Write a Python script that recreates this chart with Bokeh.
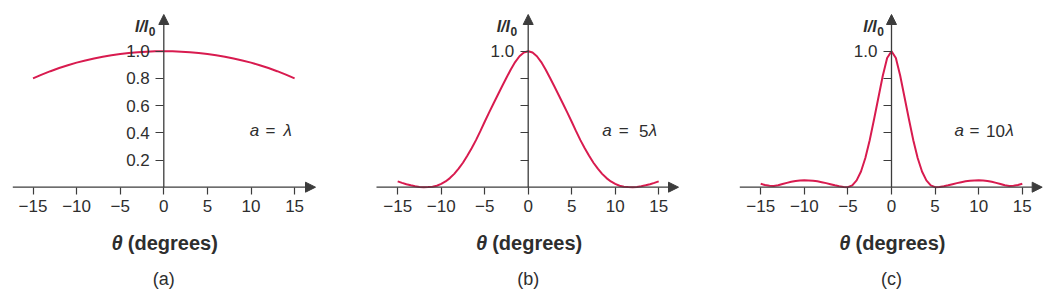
from bokeh.plotting import figure
from bokeh.models import Range1d, FixedTicker, Arrow, NormalHead, Label
from bokeh.layouts import row
from bokeh.embed import file_html
from bokeh.resources import INLINE

# ---------------- data ----------------
theta_a = [-15, -14, -13, -12, -11, -10, -9, -8, -7, -6, -5, -4, -3, -2, -1, 0,
           1, 2, 3, 4, 5, 6, 7, 8, 9, 10, 11, 12, 13, 14, 15]
intensity_a = [0.800, 0.828, 0.853, 0.876, 0.897, 0.916, 0.932, 0.946, 0.959, 0.970,
               0.979, 0.986, 0.992, 0.996, 0.999, 1.000, 0.999, 0.996, 0.992, 0.986,
               0.979, 0.970, 0.959, 0.946, 0.932, 0.916, 0.897, 0.876, 0.853, 0.828, 0.800]

theta_bc = [-15.0, -14.5, -14.0, -13.5, -13.0, -12.5, -12.0, -11.5, -11.0, -10.5,
            -10.0, -9.5, -9.0, -8.5, -8.0, -7.5, -7.0, -6.5, -6.0, -5.5,
            -5.0, -4.5, -4.0, -3.5, -3.0, -2.5, -2.0, -1.5, -1.0, -0.5,
            0.0, 0.5, 1.0, 1.5, 2.0, 2.5, 3.0, 3.5, 4.0, 4.5,
            5.0, 5.5, 6.0, 6.5, 7.0, 7.5, 8.0, 8.5, 9.0, 9.5,
            10.0, 10.5, 11.0, 11.5, 12.0, 12.5, 13.0, 13.5, 14.0, 14.5, 15.0]
intensity_b = [0.043, 0.032, 0.022, 0.014, 0.007, 0.002, 0.000, 0.001, 0.004, 0.011,
               0.024, 0.042, 0.067, 0.098, 0.136, 0.180, 0.231, 0.287, 0.346, 0.412,
               0.481, 0.548, 0.614, 0.678, 0.742, 0.805, 0.866, 0.920, 0.963, 0.990,
               1.000, 0.990, 0.963, 0.920, 0.866, 0.805, 0.742, 0.678, 0.614, 0.548,
               0.481, 0.412, 0.346, 0.287, 0.231, 0.180, 0.136, 0.098, 0.067, 0.042,
               0.024, 0.011, 0.004, 0.001, 0.000, 0.002, 0.007, 0.014, 0.022, 0.032, 0.043]
intensity_c = [0.025, 0.016, 0.010, 0.009, 0.014, 0.023, 0.032, 0.040, 0.046, 0.050,
               0.051, 0.050, 0.047, 0.043, 0.037, 0.030, 0.022, 0.014, 0.007, 0.002,
               0.000, 0.014, 0.050, 0.115, 0.215, 0.345, 0.500, 0.660, 0.820, 0.950,
               1.000, 0.950, 0.820, 0.660, 0.500, 0.345, 0.215, 0.115, 0.050, 0.014,
               0.000, 0.002, 0.007, 0.014, 0.022, 0.030, 0.037, 0.043, 0.047, 0.050,
               0.051, 0.050, 0.046, 0.040, 0.032, 0.023, 0.014, 0.009, 0.010, 0.016, 0.025]

x_ticks = [-15, -10, -5, 0, 5, 10, 15]
x_tick_labels = ["\u221215", "\u221210", "\u22125", "0", "5", "10", "15"]
y_ticks = [0.2, 0.4, 0.6, 0.8, 1.0]
y_tick_labels_full = ["0.2", "0.4", "0.6", "0.8", "1.0"]
y_tick_labels_top = ["", "", "", "", "1.0"]

panel_tags = ["(a)", "(b)", "(c)"]
slit_numbers = ["", "5", "10"]

# ---------------- style ----------------
CURVE = "#d81b4f"
AXIS = "#3c3c3c"
TEXT = "#2e2e2e"
FONT = "Liberation Sans"
H = 306
Y0 = 186.7   # pixel row of intensity 0
YS = 136.0   # pixels per unit intensity


def make_panel(width, axis_px, scale, xline, xs, ys, ylabels, tag, num,
               sub_off, eq_pos):
    x0 = -axis_px / scale
    x1 = (width - axis_px) / scale
    p = figure(width=width, height=H, x_range=Range1d(x0, x1),
               y_range=Range1d(-(H - Y0) / YS, Y0 / YS),
               output_backend="svg", toolbar_location=None, min_border=0,
               outline_line_color=None, background_fill_color="white",
               border_fill_color="white")
    p.grid.visible = False

    def X(px):
        return x0 + px / scale

    def Y(py):
        return (Y0 - py) / YS

    # axes through the origin
    p.xaxis.fixed_location = 0
    p.yaxis.fixed_location = 0
    p.xaxis.ticker = FixedTicker(ticks=x_ticks)
    p.yaxis.ticker = FixedTicker(ticks=y_ticks)
    p.xaxis.major_label_overrides = dict(zip(x_ticks, x_tick_labels))
    p.yaxis.major_label_overrides = dict(zip(y_ticks, ylabels))
    for ax in (p.xaxis, p.yaxis):
        ax.axis_line_color = None
        ax.major_tick_line_color = AXIS
        ax.major_tick_line_width = 1.2
        ax.minor_tick_line_color = None
        ax.major_tick_in = 0
        ax.major_label_text_font = FONT
        ax.major_label_text_color = TEXT
    p.xaxis.major_tick_out = 7
    p.yaxis.major_tick_out = 8
    p.xaxis.major_label_text_font_size = "17px"
    p.yaxis.major_label_text_font_size = "17px"
    p.xaxis.major_label_standoff = 6
    p.yaxis.major_label_standoff = 6

    # arrow axis lines
    head = dict(size=10, fill_color=AXIS, line_color=AXIS, line_width=1)
    p.add_layout(Arrow(x_start=X(xline[0]), y_start=0, x_end=X(xline[1]), y_end=0,
                       end=NormalHead(**head), line_color=AXIS, line_width=1.3))
    p.add_layout(Arrow(x_start=0, y_start=0, x_end=0, y_end=Y(14),
                       end=NormalHead(**head), line_color=AXIS, line_width=1.3))

    # curve
    p.line(xs, ys, line_color=CURVE, line_width=2)

    # y axis title I/I0
    p.add_layout(Label(x=X(axis_px - sub_off - 0.5), y=Y(25.5), text="I/I",
                       text_font=FONT, text_font_size="16px",
                       text_font_style="bold italic", text_align="right",
                       text_baseline="alphabetic", text_color=TEXT))
    p.add_layout(Label(x=X(axis_px - sub_off), y=Y(30.5), text="0",
                       text_font=FONT, text_font_size="12px",
                       text_font_style="bold", text_align="left",
                       text_baseline="alphabetic", text_color=TEXT))

    # x axis title
    p.add_layout(Label(x=X(axis_px - 46.7), y=Y(242.5), text="\u03b8",
                       text_font=FONT, text_font_size="20px",
                       text_font_style="bold italic", text_align="center",
                       text_baseline="alphabetic", text_color=TEXT))
    p.add_layout(Label(x=X(axis_px - 36), y=Y(242.5), text="(degrees)",
                       text_font=FONT, text_font_size="20px",
                       text_font_style="bold", text_align="left",
                       text_baseline="alphabetic", text_color=TEXT))

    # panel tag
    p.add_layout(Label(x=0, y=Y(278), text=tag, text_font=FONT,
                       text_font_size="18px", text_align="center",
                       text_baseline="alphabetic", text_color=TEXT))

    # a = n lambda
    common = dict(y=Y(130), text_font=FONT, text_font_size="17px",
                  text_align="left", text_baseline="alphabetic", text_color=TEXT)
    p.add_layout(Label(x=X(eq_pos[0]), text="a", text_font_style="italic", **common))
    p.add_layout(Label(x=X(eq_pos[1]), text="=", **common))
    if num:
        p.add_layout(Label(x=X(eq_pos[2]), text=num, **common))
    p.add_layout(Label(x=X(eq_pos[3]), text="\u03bb", text_font_style="italic", **common))
    return p


pa = make_panel(340, 163.3, 8.72, (12.3, 315.0), theta_a, intensity_a,
                y_tick_labels_full, panel_tags[0], slit_numbers[0], 15.0,
                (249.3, 265.0, 283.0, 283.0))
pb = make_panel(350, 187.7, 8.70, (36.0, 338.0), theta_bc, intensity_b,
                y_tick_labels_top, panel_tags[1], slit_numbers[1], 17.7,
                (261.7, 278.3, 298.5, 308.3))
pc = make_panel(355, 201.0, 8.72, (49.3, 351.7), theta_bc, intensity_c,
                y_tick_labels_top, panel_tags[2], slit_numbers[2], 14.3,
                (264.0, 279.0, 295.5, 315.0))

layout = row(pa, pb, pc, spacing=0)
open("out.html", "w").write(file_html(layout, INLINE))
